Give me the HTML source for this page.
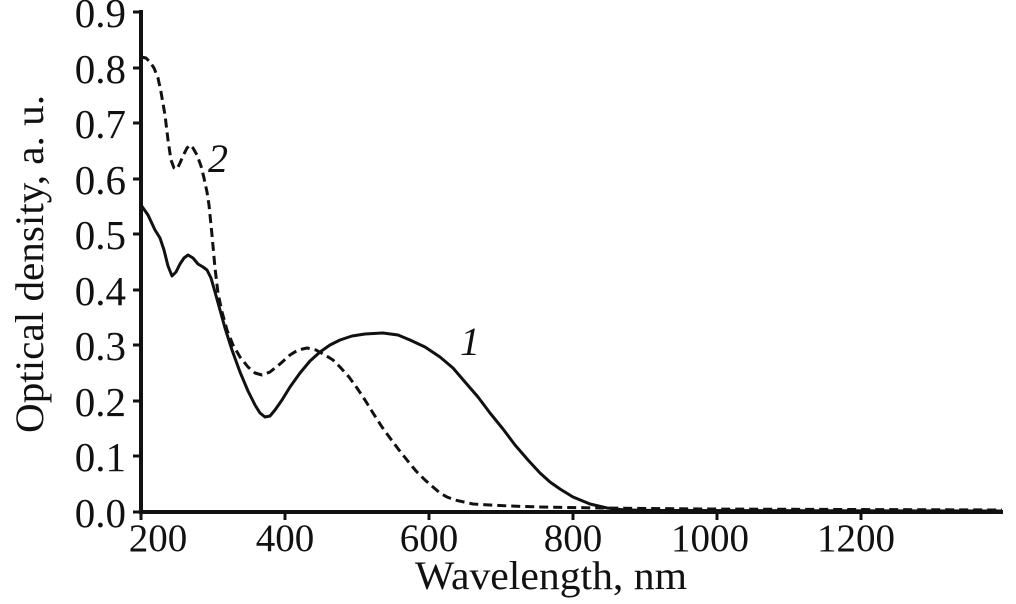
<!DOCTYPE html>
<html><head><style>body{margin:0;background:#fff}svg{display:block}text{font-family:"Liberation Serif",serif;fill:#111}</style></head><body>
<svg width="1016" height="604" viewBox="0 0 1016 604">
<g stroke="#111" stroke-width="4" fill="none">
<line x1="141" y1="10" x2="141" y2="514"/>
<line x1="139" y1="512" x2="1003" y2="512"/>
</g>
<g stroke="#111" stroke-width="3">
<line x1="133" y1="12" x2="141" y2="12"/><line x1="133" y1="68" x2="141" y2="68"/><line x1="133" y1="123" x2="141" y2="123"/><line x1="133" y1="179" x2="141" y2="179"/><line x1="133" y1="234" x2="141" y2="234"/><line x1="133" y1="290" x2="141" y2="290"/><line x1="133" y1="345" x2="141" y2="345"/><line x1="133" y1="401" x2="141" y2="401"/><line x1="133" y1="456" x2="141" y2="456"/><line x1="133" y1="512" x2="141" y2="512"/>
<line x1="141" y1="512" x2="141" y2="520"/><line x1="285" y1="512" x2="285" y2="520"/><line x1="429" y1="512" x2="429" y2="520"/><line x1="573" y1="512" x2="573" y2="520"/><line x1="717" y1="512" x2="717" y2="520"/><line x1="861" y1="512" x2="861" y2="520"/>
</g>
<g font-size="41" text-anchor="end">
<text x="126" y="27">0.9</text><text x="126" y="83">0.8</text><text x="126" y="138">0.7</text><text x="126" y="194">0.6</text><text x="126" y="249">0.5</text><text x="126" y="305">0.4</text><text x="126" y="360">0.3</text><text x="126" y="416">0.2</text><text x="126" y="471">0.1</text><text x="126" y="527">0.0</text>
</g>
<g font-size="39" text-anchor="middle">
<text x="158" y="551">200</text><text x="285" y="551">400</text><text x="429" y="551">600</text><text x="573" y="551">800</text><text x="710" y="551">1000</text><text x="856" y="551">1200</text>
</g>
<text x="415" y="589" font-size="40" textLength="272" lengthAdjust="spacingAndGlyphs">Wavelength, nm</text>
<text transform="translate(43,433) rotate(-90)" font-size="40" textLength="338" lengthAdjust="spacingAndGlyphs">Optical density, a. u.</text>
<text x="460" y="355" font-size="40" font-style="italic">1</text>
<text x="208" y="172" font-size="40" font-style="italic">2</text>
<polyline fill="none" stroke="#111" stroke-width="3" stroke-linejoin="round" points="141,205 148,215 155,230 160,238 164,250 168,266 172,276 176,272 180,264 184,258 188,255 193,258 198,264 203,267 207,270 211,278 215,292 220,310 225,328 232,350 240,372 248,391 255,405 260,413 265,417 270,416 275,410 282,400 290,387 300,373 310,361 320,352 330,345 340,340 352,336 365,334 383,333 398,335 410,340 425,347 440,357 453,368 465,382 478,397 490,413 503,429 515,445 528,460 540,473 550,482 560,489 573,497 590,504 607,508 625,510 660,510.5 1002,511"/>
<polyline fill="none" stroke="#111" stroke-width="3" stroke-linejoin="round" stroke-dasharray="9,5" points="141,57 146,58 150,62 154,68 158,78 161,92 165,115 168,140 171,160 174,168 177,169 180,163 183,156 187,148 190,145 193,148 197,155 201,166 204,178 207,192 209,205 212,235 215,268 218,293 222,312 227,330 233,345 240,357 248,367 255,373 262,375 270,372 280,364 290,355 298,350 307,348 316,350 325,355 333,360 340,367 349,377 357,388 365,400 373,413 382,427 390,438 399,450 407,460 416,471 425,480 433,487 440,493 447,497 455,500 464,502 473,504 490,505 510,506 540,507 600,508 700,509 1002,510"/>
</svg>
</body></html>
